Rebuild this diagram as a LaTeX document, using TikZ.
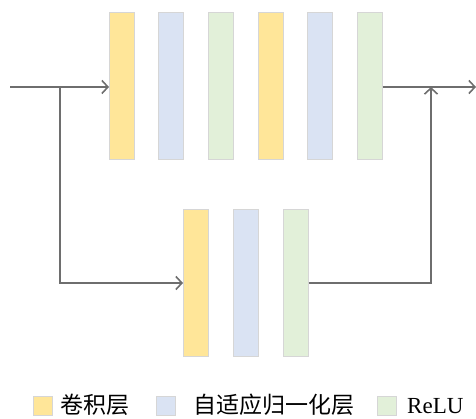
\documentclass[tikz,border=0pt]{standalone}
\usepackage{fontspec}
\setmainfont{Liberation Serif}
\newfontfamily\cjk{Noto Sans CJK SC}
\usetikzlibrary{arrows.meta}
\definecolor{convc}{HTML}{FFE699}
\definecolor{normc}{HTML}{DAE3F3}
\definecolor{reluc}{HTML}{E2F0D9}
\definecolor{edgec}{HTML}{D6D6D6}
\definecolor{linec}{HTML}{6E6E6E}
\begin{document}
\begin{tikzpicture}[x=1pt,y=-1pt,
  bar/.style={draw=edgec,line width=1pt,minimum width=25pt,minimum height=147pt,inner sep=0pt},
  conv/.style={bar,fill=convc},
  norm/.style={bar,fill=normc},
  relu/.style={bar,fill=reluc},
  legbox/.style={draw=edgec,line width=0.8pt,minimum width=19pt,minimum height=19pt,inner sep=0pt},
  legtext/.style={anchor=west,inner sep=0pt,font=\fontsize{23}{25}\selectfont},
  conn/.style={draw=linec,line width=1.8pt},
  arr/.style={conn,-{Straight Barb[length=6pt,width=13pt,line width=1.6pt]}}]
\useasboundingbox (0,0) rectangle (476,419);
% top branch
\node[conv] (t1) at (122,86.5) {};
\node[norm] (t2) at (171,86.5) {};
\node[relu] (t3) at (220.5,86.5) {};
\node[conv] (t4) at (270.5,86.5) {};
\node[norm] (t5) at (320,86.5) {};
\node[relu] (t6) at (369.5,86.5) {};
% bottom branch
\node[conv] (b1) at (196,283) {};
\node[norm] (b2) at (245.5,283) {};
\node[relu] (b3) at (295.5,283) {};
% connectors
\coordinate (in) at (10,87);
\coordinate (split) at (60,87);
\coordinate (merge) at (431,87);
\coordinate (out) at (476,87);
\draw[arr] (in) -- (t1.west |- in);
\draw[arr] (split) |- (b1.west);
\draw[arr] (b3.east) -| (merge);
\draw[arr] (t6.east |- out) -- (out);
% legend
\node[legbox,fill=convc] (l1) at (42.5,406) {};
\node[legtext] (l1t) at (60,405) {\cjk 卷积层};
\node[legbox,fill=normc] (l2) at (166,406) {};
\node[legtext] (l2t) at (193,405) {\cjk 自适应归一化层};
\node[legbox,fill=reluc] (l3) at (387,406) {};
\node[legtext] (l3t) at (407,406) {ReLU};
\end{tikzpicture}
\end{document}
